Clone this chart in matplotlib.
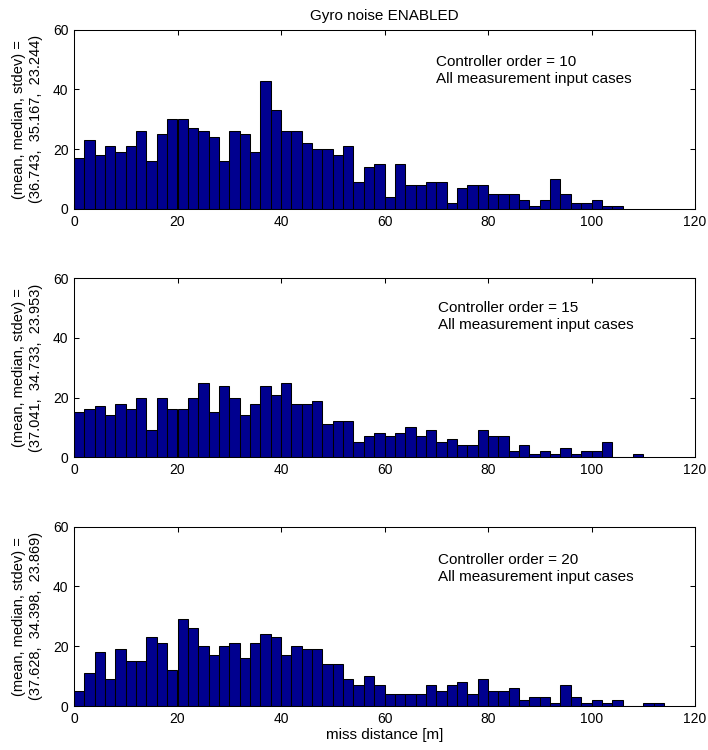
import numpy as np
import matplotlib
matplotlib.use("Agg")
import matplotlib.pyplot as plt

plt.rcParams['font.family'] = ['Liberation Sans', 'DejaVu Sans']

# Histogram counts per 2 m bin, starting at 0 m
bin_width = 2.0
counts_order10 = [17, 23, 18, 21, 19, 21, 26, 16, 25, 30,
                  30, 27, 26, 24, 16, 26, 25, 19, 43, 33,
                  26, 26, 22, 20, 20, 18, 21, 9, 14, 15,
                  4, 15, 8, 8, 9, 9, 2, 7, 8, 8,
                  5, 5, 5, 3, 1, 3, 10, 5, 2, 2,
                  3, 1, 1]
counts_order15 = [15, 16, 17, 14, 18, 16, 20, 9, 20, 16,
                  16, 20, 25, 15, 24, 20, 14, 18, 24, 21,
                  25, 18, 18, 19, 11, 12, 12, 5, 7, 8,
                  7, 8, 10, 7, 9, 5, 6, 4, 4, 9,
                  7, 7, 2, 4, 1, 2, 1, 3, 1, 2,
                  2, 5, 0, 0, 1]
counts_order20 = [5, 11, 18, 9, 19, 15, 15, 23, 21, 12,
                  29, 26, 20, 17, 20, 21, 16, 21, 24, 23,
                  17, 20, 19, 19, 14, 14, 9, 7, 10, 7,
                  4, 4, 4, 4, 7, 5, 7, 8, 4, 9,
                  5, 5, 6, 2, 3, 3, 1, 7, 3, 1,
                  2, 1, 2, 0, 0, 1, 1]

controller_orders = [10, 15, 20]
stats = ["(36.743,  35.167,  23.244)",
         "(37.041,  34.733,  23.953)",
         "(37.628,  34.398,  23.869)"]
xticks = [0, 20, 40, 60, 80, 100, 120]
yticks = [0, 20, 40, 60]

all_counts = [counts_order10, counts_order15, counts_order20]

fig = plt.figure(figsize=(7.08, 7.5), dpi=100)

left, width, height = 74 / 708, 621 / 708, 179.3 / 750
bottoms = [1 - 209 / 750, 1 - 457.3 / 750, 1 - 706 / 750]
text_y = [(49.3, 43.4), (50.0, 44.2), (48.8, 43.2)]
text_x = [70.0, 70.4, 70.4]

bar_color = (0, 0, 0.5625)

for i, (counts, order, stat) in enumerate(zip(all_counts, controller_orders, stats)):
    ax = fig.add_axes([left, bottoms[i], width, height])
    edges = np.arange(len(counts)) * bin_width
    ax.bar(edges, counts, width=bin_width, align='edge',
           color=bar_color, edgecolor='black', linewidth=0.75)
    ax.set_xlim(0, 120)
    ax.set_ylim(0, 60)
    ax.set_xticks(xticks)
    ax.set_yticks(yticks)
    ax.tick_params(direction='in', top=True, right=True, length=3.6,
                   width=0.75, labelsize=10, pad=4)
    for sp in ax.spines.values():
        sp.set_linewidth(0.75)
    ax.set_ylabel("(mean, median, stdev) =\n" + stat, fontsize=10.5,
                  linespacing=1.3)
    ax.yaxis.set_label_coords(-0.05, 0.5)
    ax.text(text_x[i], text_y[i][0], f"Controller order = {order}",
            fontsize=11, ha='left', va='center')
    ax.text(text_x[i], text_y[i][1], "All measurement input cases",
            fontsize=11, ha='left', va='center')
    if i == 0:
        ax.set_title("Gyro noise ENABLED", fontsize=11, pad=7)
    if i == 2:
        ax.set_xlabel("miss distance [m]", fontsize=11, labelpad=2)

fig.savefig("out.png", dpi=100)
